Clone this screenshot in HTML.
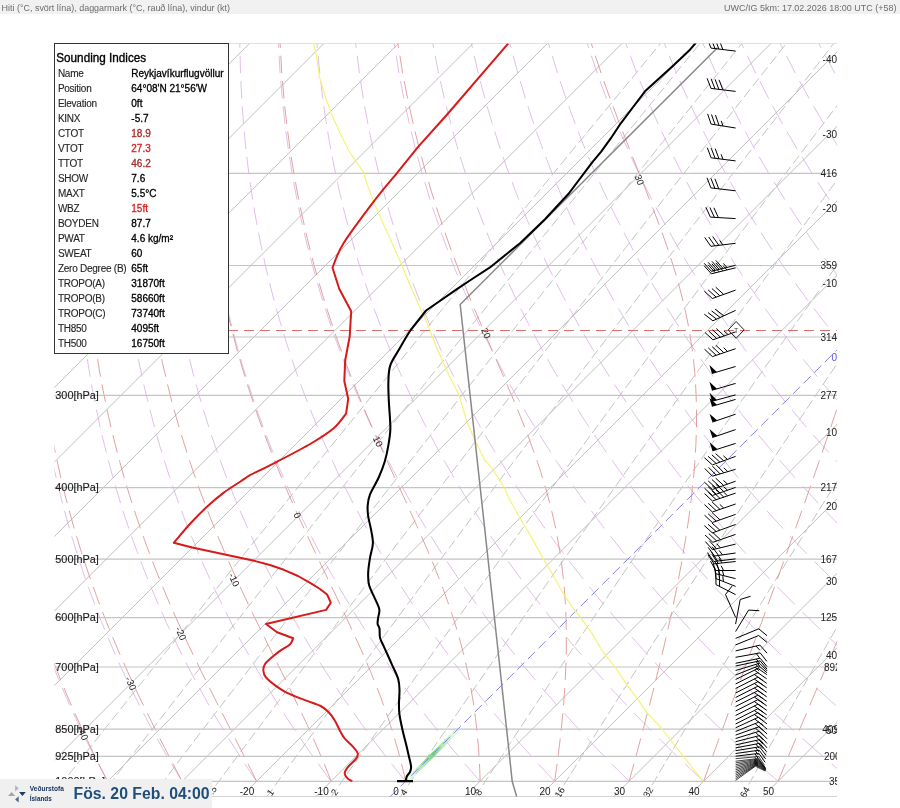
<!DOCTYPE html>
<html><head><meta charset="utf-8"><style>
html,body{margin:0;padding:0;background:#fff;width:900px;height:808px;overflow:hidden}
svg{display:block}
text{font-family:"Liberation Sans",Arial,sans-serif}
.iso{fill:none;stroke:#c4c4c4;stroke-width:1.2}
.it{fill:none;stroke:#a9a9a9;stroke-width:0.75}
.mr{fill:none;stroke:#c4c4c4;stroke-width:1;stroke-dasharray:10 4}
.da{fill:none;stroke:#d8aee0;stroke-width:0.8}
.ma{fill:none;stroke:#dc8888;stroke-width:0.8}
.tl{font-size:10px;fill:#262626;letter-spacing:-0.25px;stroke:#262626;stroke-width:0.12}
.tv{font-size:10px;fill:#000;stroke:#000;stroke-width:0.3}
.tv.dr{fill:#a52a2a;stroke:#a52a2a}
.tv.r{fill:#dd1c1c;stroke:#dd1c1c}
.pl{font-size:10.9px;fill:#1e1e1e;stroke:#1e1e1e;stroke-width:0.15}
.hl{font-size:10px;fill:#222}
.tr{font-size:10px;fill:#222;text-anchor:end}
.tr.b{fill:#5555dd}
.bt{font-size:10px;fill:#222;text-anchor:middle}
.ml{font-size:9.5px;fill:#222;text-anchor:middle;dominant-baseline:central}
.al{font-size:9.5px;fill:#222;text-anchor:middle;dominant-baseline:central}
</style></head><body>
<svg width="900" height="808" viewBox="0 0 900 808">
<defs><linearGradient id="gg" gradientUnits="userSpaceOnUse" x1="407.8" y1="779.8" x2="458.1" y2="729.5"><stop offset="0" stop-color="#b8f0b8" stop-opacity="0.3"/><stop offset="0.5" stop-color="#70dc70"/><stop offset="1" stop-color="#c8f4c8" stop-opacity="0.3"/></linearGradient><clipPath id="pc"><rect x="54.4" y="43.4" width="782.7" height="753.3"/></clipPath></defs>
<rect x="0" y="0" width="900" height="808" fill="#fff"/>
<rect x="0" y="0" width="900" height="14" fill="#f1f1f1"/>
<text x="1.5" y="10.8" font-size="9.2" fill="#6c6c6c" textLength="228.5" lengthAdjust="spacingAndGlyphs">Hiti (°C, svört lína), daggarmark (°C, rauð lína), vindur (kt)</text>
<text x="896.5" y="10.8" font-size="9.2" fill="#6c6c6c" text-anchor="end" textLength="172.5" lengthAdjust="spacingAndGlyphs">UWC/IG 5km: 17.02.2026 18:00 UTC (+58)</text>
<g clip-path="url(#pc)">
<path d="M-802 796.9L-48.4 43.3M-727.5 796.9L26.1 43.3M-653 796.9L100.6 43.3M-578.5 796.9L175.1 43.3M-504 796.9L249.6 43.3M-429.5 796.9L324.1 43.3M-355 796.9L398.6 43.3M-280.5 796.9L473.1 43.3M-206 796.9L547.6 43.3M-131.5 796.9L622.1 43.3M-57 796.9L696.6 43.3M17.5 796.9L771.1 43.3M92 796.9L845.6 43.3M166.5 796.9L920.1 43.3M241 796.9L994.6 43.3M315.5 796.9L1069.1 43.3M464.5 796.9L1218.1 43.3M539 796.9L1292.6 43.3M613.5 796.9L1367.1 43.3M688 796.9L1441.6 43.3M762.5 796.9L1516.1 43.3M837 796.9L1590.6 43.3" class="it"/>
<path d="M51.1 796.9 63.4 781.3 76.4 764.9 90.1 747.5 104.6 729.2 120 709.8 136.4 689.1 154 667 172.9 643.2 193.4 617.6 215.7 589.7 240.2 559.1 267.3 525.4 297.7 487.6 332.2 444.8 372.2 395.4 419.6 337 477.9 265.5 553.5 173.3 660.6 43.3M99.7 796.9 111.8 781.3 124.5 764.9 138 747.5 152.3 729.2 167.4 709.8 183.5 689.1 200.8 667 219.4 643.2 239.6 617.6 261.5 589.7 285.6 559.1 312.2 525.4 342.2 487.6 376.2 444.8 415.5 395.4 462.3 337 519.8 265.5 594.3 173.3 700.1 43.3M151.6 796.9 163.5 781.3 176 764.9 189.2 747.5 203.1 729.2 218 709.8 233.8 689.1 250.8 667 269 643.2 288.8 617.6 310.3 589.7 333.9 559.1 360.2 525.4 389.5 487.6 423 444.8 461.7 395.4 507.7 337 564.3 265.5 637.7 173.3 742 43.3M207.2 796.9 218.8 781.3 231 764.9 243.9 747.5 257.6 729.2 272.1 709.8 287.6 689.1 304.2 667 322 643.2 341.4 617.6 362.5 589.7 385.6 559.1 411.3 525.4 440.1 487.6 472.9 444.8 510.9 395.4 556.1 337 611.7 265.5 683.9 173.3 786.5 43.3M266.8 796.9 278.1 781.3 290 764.9 302.6 747.5 315.9 729.2 330.1 709.8 345.2 689.1 361.4 667 378.8 643.2 397.7 617.6 418.3 589.7 440.9 559.1 466 525.4 494.2 487.6 526.3 444.8 563.5 395.4 607.8 337 662.3 265.5 733.1 173.3 833.9 43.3M331 796.9 342 781.3 353.5 764.9 365.7 747.5 378.7 729.2 392.4 709.8 407.1 689.1 422.8 667 439.8 643.2 458.2 617.6 478.2 589.7 500.3 559.1 524.8 525.4 552.2 487.6 583.5 444.8 619.9 395.4 663.1 337 716.4 265.5 785.7 173.3 884.4 43.3M400.3 796.9 410.8 781.3 422 764.9 433.8 747.5 446.3 729.2 459.6 709.8 473.8 689.1 489.1 667 505.5 643.2 523.3 617.6 542.7 589.7 564.1 559.1 587.9 525.4 614.6 487.6 645 444.8 680.3 395.4 722.4 337 774.4 265.5 842 173.3 938.5 43.3M475.2 796.9 485.3 781.3 496.1 764.9 507.4 747.5 519.4 729.2 532.2 709.8 545.9 689.1 560.6 667 576.4 643.2 593.6 617.6 612.3 589.7 633 559.1 655.9 525.4 681.8 487.6 711.2 444.8 745.4 395.4 786.3 337 836.7 265.5 902.5 173.3 996.5 43.3M556.5 796.9 566.2 781.3 576.4 764.9 587.2 747.5 598.7 729.2 610.9 709.8 624 689.1 638.1 667 653.2 643.2 669.7 617.6 687.7 589.7 707.5 559.1 729.5 525.4 754.4 487.6 782.7 444.8 815.7 395.4 855.1 337 903.9 265.5 967.6 173.3 1058.9 43.3M645.1 796.9 654.3 781.3 663.9 764.9 674.2 747.5 685 729.2 696.6 709.8 709 689.1 722.3 667 736.7 643.2 752.4 617.6 769.5 589.7 788.4 559.1 809.4 525.4 833.1 487.6 860.2 444.8 891.8 395.4 929.6 337 976.5 265.5 1037.9 173.3 1126.1 43.3M742.1 796.9 750.6 781.3 759.6 764.9 769.1 747.5 779.3 729.2 790.1 709.8 801.8 689.1 814.3 667 827.8 643.2 842.5 617.6 858.6 589.7 876.4 559.1 896.3 525.4 918.8 487.6 944.5 444.8 974.5 395.4 1010.5 337 1055.3 265.5 1114 173.3 1198.7 43.3" class="mr"/>
<path d="M107.6 781.3 105.8 778.1 104.1 774.8 102.3 771.5 100.5 768.2 98.8 764.9 98.2 763.8M94.2 756 93.4 754.6 91.6 751.1 89.9 747.5 88.1 744 86.3 740.3 85.4 738.5M81.6 730.7 80.9 729.2 79.1 725.4 77.3 721.6 75.5 717.7 73.7 713.8 73.4 713.2M69.9 705.4 68.2 701.7 66.4 697.5 64.6 693.3 62.7 689.1 62.3 687.9M59 680.1 57.3 676 55.5 671.5 53.6 667 51.9 662.6M182.1 781.3 180.1 778.1 178.1 774.8 176.2 771.5 174.2 768.2 172.2 764.9 171.6 763.8M167 756 166.2 754.6 164.2 751.1 162.2 747.5 160.1 744 158.1 740.3 157.1 738.5M152.8 730.7 152 729.2 150 725.4 147.9 721.6 145.9 717.7 143.8 713.8 143.5 713.2M139.5 705.4 137.6 701.7 135.5 697.5 133.5 693.3 131.4 689.1 130.8 687.9M127.1 680.1 125.1 676 123 671.5 120.9 667 118.9 662.6M115.5 654.8 114.6 652.9 112.5 648.1 110.4 643.2 108.3 638.3 107.9 637.3M104.7 629.6 104.1 628.1 101.9 622.9 99.8 617.6 97.7 612.2 97.7 612.1M94.7 604.3 93.5 601.1 91.4 595.5 89.3 589.7 88.2 586.8M85.5 579 85.1 577.8 83 571.7 80.9 565.5 79.6 561.5M77.1 553.7 76.7 552.7 74.7 546.1 72.6 539.3 71.7 536.2M69.4 528.4 68.5 525.4 66.5 518.2 64.5 510.9M62.4 503.1 60.5 495.5 58.5 487.6 58.1 485.6M56.2 477.8 54.7 471.2 52.8 462.6 52.3 460.3M256.6 781.3 254.4 778.1 252.2 774.8 250 771.5 247.8 768.2 245.6 764.9 244.9 763.8M239.9 756 238.9 754.6 236.7 751.1 234.4 747.5 232.2 744 229.9 740.3 228.8 738.5M224 730.7 223.1 729.2 220.8 725.4 218.5 721.6 216.2 717.7 213.9 713.8 213.6 713.2M209.1 705.4 207 701.7 204.7 697.5 202.3 693.3 200 689.1 199.4 687.9M195.1 680.1 192.9 676 190.6 671.5 188.2 667 186 662.6M182 654.8 181.1 652.9 178.7 648.1 176.3 643.2 173.9 638.3 173.4 637.3M169.7 629.6 169 628.1 166.6 622.9 164.2 617.6 161.8 612.2 161.7 612.1M158.3 604.3 156.9 601.1 154.5 595.5 152.1 589.7 150.9 586.8M147.7 579 147.2 577.8 144.8 571.7 142.4 565.5 140.8 561.5M137.9 553.7 137.5 552.7 135.1 546.1 132.6 539.3 131.6 536.2M128.9 528.4 127.8 525.4 125.4 518.2 123 510.9M120.6 503.1 118.3 495.5 115.9 487.6 115.3 485.6M113.1 477.8 111.2 471.2 108.9 462.6 108.3 460.3M106.3 452.5 104.4 444.8 102.1 435.5 102 435M100.2 427.2 99.9 426 97.8 416.1 96.4 409.7M94.8 401.9 93.6 395.4 91.5 384.6 91.5 384.4M90.2 376.7 89.6 373.3 87.7 361.7 87.3 359.2M86.1 351.4 85.9 349.6 84.1 337 83.7 333.9M82.8 326.1 82.5 323.9 81 310.3 80.8 308.6M80 300.8 79.6 296 78.5 283.3M77.9 275.5 77.3 265.5 76.9 258M76.4 250.2 76.4 249 75.8 232.7M75.6 224.9 75.3 213.4 75.3 207.4M75.3 199.6 75.2 194 75.4 182.1M75.5 174.3 75.5 173.3 76 156.8M76.3 149 77.2 131.5M77.7 123.8 78.9 106.3M79.6 98.5 81.2 81M82 73.2 84 55.7M84.9 47.9 85.5 43.3M331.1 781.3 328.7 778.1 326.3 774.8 323.9 771.5 321.5 768.2 319 764.9 318.3 763.8M312.7 756 311.7 754.6 309.2 751.1 306.7 747.5 304.3 744 301.8 740.3 300.5 738.5M295.3 730.7 294.2 729.2 291.7 725.4 289.2 721.6 286.6 717.7 284.1 713.8 283.7 713.2M278.8 705.4 276.4 701.7 273.8 697.5 271.2 693.3 268.6 689.1 267.9 687.9M263.2 680.1 260.8 676 258.1 671.5 255.5 667 253 662.6M248.6 654.8 247.5 652.9 244.8 648.1 242.1 643.2 239.4 638.3 239 637.3M234.8 629.6 234 628.1 231.3 622.9 228.6 617.6 225.9 612.2 225.8 612.1M221.9 604.3 220.4 601.1 217.6 595.5 214.9 589.7 213.5 586.8M209.9 579 209.4 577.8 206.6 571.7 203.8 565.5 202.1 561.5M198.7 553.7 198.3 552.7 195.5 546.1 192.7 539.3 191.4 536.2M188.3 528.4 187.1 525.4 184.3 518.2 181.6 510.9M178.7 503.1 176 495.5 173.2 487.6 172.5 485.6M169.9 477.8 167.7 471.2 165 462.6 164.3 460.3M161.9 452.5 159.5 444.8 156.9 435.5 156.7 435M154.5 427.2 154.2 426 151.6 416.1 149.9 409.7M148 401.9 146.4 395.4 143.8 384.6 143.8 384.4M142.1 376.7 141.4 373.3 138.9 361.7 138.4 359.2M136.9 351.4 136.6 349.6 134.3 337 133.7 333.9M132.4 326.1 132 323.9 129.9 310.3 129.7 308.6M128.6 300.8 127.9 296 126.3 283.3M125.4 275.5 124.3 265.5 123.6 258M122.8 250.2 122.7 249 121.4 232.7M120.9 224.9 120.2 213.4 120 207.4M119.6 199.6 119.4 194 119.1 182.1M118.9 174.3 118.8 173.3 118.7 156.8M118.7 149 119 131.5M119.1 123.8 119.8 106.3M120.1 98.5 121.1 81M121.6 73.2 123 55.7M123.7 47.9 124.1 43.3M405.6 781.3 403 778.1 400.4 774.8 397.7 771.5 395.1 768.2 392.4 764.9 391.6 763.8M385.5 756 384.4 754.6 381.7 751.1 379 747.5 376.3 744 373.6 740.3 372.2 738.5M366.5 730.7 365.4 729.2 362.6 725.4 359.8 721.6 357 717.7 354.2 713.8 353.9 713.2M348.4 705.4 345.8 701.7 342.9 697.5 340.1 693.3 337.2 689.1 336.5 687.9M331.3 680.1 328.6 676 325.7 671.5 322.8 667 320 662.6M315.1 654.8 313.9 652.9 311 648.1 308 643.2 305 638.3 304.5 637.3M299.9 629.6 299 628.1 296 622.9 293 617.6 289.9 612.2 289.9 612.1M285.6 604.3 283.8 601.1 280.8 595.5 277.7 589.7 276.2 586.8M272.1 579 271.5 577.8 268.4 571.7 265.3 565.5 263.3 561.5M259.5 553.7 259 552.7 255.9 546.1 252.7 539.3 251.3 536.2M247.8 528.4 246.4 525.4 243.3 518.2 240.1 510.9M236.9 503.1 233.7 495.5 230.6 487.6 229.8 485.6M226.8 477.8 224.2 471.2 221.1 462.6 220.2 460.3M217.4 452.5 214.7 444.8 211.6 435.5 211.4 435M208.9 427.2 208.5 426 205.4 416.1 203.4 409.7M201.1 401.9 199.2 395.4 196.1 384.6 196.1 384.4M194 376.7 193.1 373.3 190.2 361.7 189.6 359.2M187.7 351.4 187.3 349.6 184.4 337 183.7 333.9M182.1 326.1 181.6 323.9 178.9 310.3 178.6 308.6M177.1 300.8 176.3 296 174.1 283.3M172.9 275.5 171.3 265.5 170.3 258M169.2 250.2 169.1 249 167.1 232.7M166.3 224.9 165.1 213.4 164.6 207.4M164 199.6 163.5 194 162.7 182.1M162.2 174.3 162.2 173.3 161.4 156.8M161.1 149 160.7 131.5M160.6 123.8 160.6 106.3M160.7 98.5 161 81M161.2 73.2 162.1 55.7M162.4 47.9 162.7 43.3M480.1 781.3 477.3 778.1 474.4 774.8 471.6 771.5 468.7 768.2 465.9 764.9 465 763.8M458.4 756 457.2 754.6 454.2 751.1 451.3 747.5 448.4 744 445.4 740.3 443.9 738.5M437.7 730.7 436.5 729.2 433.5 725.4 430.5 721.6 427.4 717.7 424.4 713.8 424 713.2M418 705.4 415.2 701.7 412.1 697.5 409 693.3 405.9 689.1 405 687.9M399.4 680.1 396.4 676 393.2 671.5 390 667 387 662.6M381.7 654.8 380.4 652.9 377.1 648.1 373.9 643.2 370.6 638.3 370 637.3M365 629.6 364 628.1 360.7 622.9 357.4 617.6 354 612.2 353.9 612.1M349.2 604.3 347.3 601.1 343.9 595.5 340.5 589.7 338.8 586.8M334.3 579 333.6 577.8 330.2 571.7 326.7 565.5 324.6 561.5M320.3 553.7 319.8 552.7 316.3 546.1 312.8 539.3 311.2 536.2M307.2 528.4 305.7 525.4 302.2 518.2 298.7 510.9M295 503.1 291.5 495.5 287.9 487.6 287 485.6M283.6 477.8 280.7 471.2 277.1 462.6 276.2 460.3M273 452.5 269.9 444.8 266.3 435.5 266.1 435M263.2 427.2 262.7 426 259.2 416.1 256.9 409.7M254.2 401.9 252 395.4 248.5 384.6 248.4 384.4M246 376.7 244.9 373.3 241.4 361.7 240.7 359.2M238.5 351.4 238 349.6 234.5 337 233.7 333.9M231.7 326.1 231.2 323.9 227.8 310.3 227.5 308.6M225.7 300.8 224.6 296 221.9 283.3M220.3 275.5 218.4 265.5 217 258M215.6 250.2 215.4 249 212.8 232.7M211.7 224.9 210 213.4 209.3 207.4M208.3 199.6 207.6 194 206.4 182.1M205.6 174.3 205.5 173.3 204.1 156.8M203.5 149 202.5 131.5M202.1 123.8 201.4 106.3M201.2 98.5 200.9 81M200.9 73.2 201.1 55.7M201.2 47.9 201.2 43.3M554.6 781.3 551.6 778.1 548.5 774.8 545.4 771.5 542.4 768.2 539.3 764.9 538.3 763.8M531.2 756 529.9 754.6 526.8 751.1 523.6 747.5 520.4 744 517.2 740.3 515.7 738.5M508.9 730.7 507.6 729.2 504.4 725.4 501.1 721.6 497.8 717.7 494.5 713.8 494.1 713.2M487.6 705.4 484.6 701.7 481.2 697.5 477.9 693.3 474.5 689.1 473.6 687.9M467.4 680.1 464.2 676 460.8 671.5 457.3 667 454 662.6M448.2 654.8 446.8 652.9 443.3 648.1 439.8 643.2 436.2 638.3 435.5 637.3M430 629.6 429 628.1 425.4 622.9 421.8 617.6 418.1 612.2 418 612.1M412.8 604.3 410.7 601.1 407 595.5 403.3 589.7 401.4 586.8M396.5 579 395.8 577.8 392 571.7 388.2 565.5 385.8 561.5M381.2 553.7 380.6 552.7 376.7 546.1 372.8 539.3 371.1 536.2M366.7 528.4 365 525.4 361.1 518.2 357.2 510.9M353.1 503.1 349.2 495.5 345.3 487.6 344.3 485.6M340.4 477.8 337.2 471.2 333.2 462.6 332.1 460.3M328.6 452.5 325.1 444.8 321.1 435.5 320.9 435M317.6 427.2 317 426 313 416.1 310.4 409.7M307.3 401.9 304.8 395.4 300.8 384.6 300.7 384.4M297.9 376.7 296.7 373.3 292.7 361.7 291.8 359.2M289.3 351.4 288.7 349.6 284.7 337 283.7 333.9M281.4 326.1 280.7 323.9 276.8 310.3 276.3 308.6M274.2 300.8 272.9 296 269.7 283.3M267.8 275.5 265.4 265.5 263.8 258M262.1 250.2 261.8 249 258.5 232.7M257 224.9 254.9 213.4 254 207.4M252.7 199.6 251.8 194 250.1 182.1M249 174.3 248.8 173.3 246.8 156.8M245.9 149 244.2 131.5M243.5 123.8 242.2 106.3M241.7 98.5 240.9 81M240.5 73.2 240.1 55.7M239.9 47.9 239.8 43.3M629.1 781.3 625.8 778.1 622.6 774.8 619.3 771.5 616 768.2 612.7 764.9 611.6 763.8M604 756 602.7 754.6 599.3 751.1 595.9 747.5 592.5 744 589.1 740.3 587.4 738.5M580.1 730.7 578.7 729.2 575.2 725.4 571.7 721.6 568.2 717.7 564.7 713.8 564.2 713.2M557.3 705.4 554 701.7 550.4 697.5 546.7 693.3 543.1 689.1 542.1 687.9M535.5 680.1 532.1 676 528.3 671.5 524.6 667 521.1 662.6M514.8 654.8 513.3 652.9 509.5 648.1 505.6 643.2 501.8 638.3 501.1 637.3M495.1 629.6 494 628.1 490.1 622.9 486.1 617.6 482.2 612.2 482.1 612.1M476.4 604.3 474.2 601.1 470.2 595.5 466.1 589.7 464.1 586.8M458.7 579 457.9 577.8 453.8 571.7 449.7 565.5 447 561.5M442 553.7 441.3 552.7 437.1 546.1 432.9 539.3 430.9 536.2M426.2 528.4 424.3 525.4 420 518.2 415.8 510.9M411.3 503.1 407 495.5 402.6 487.6 401.5 485.6M397.3 477.8 393.7 471.2 389.3 462.6 388.1 460.3M384.2 452.5 380.3 444.8 375.8 435.5 375.6 435M371.9 427.2 371.3 426 366.8 416.1 363.9 409.7M360.5 401.9 357.6 395.4 353.1 384.6 353 384.4M349.9 376.7 348.5 373.3 343.9 361.7 343 359.2M340 351.4 339.4 349.6 334.8 337 333.7 333.9M331 326.1 330.3 323.9 325.8 310.3 325.2 308.6M322.8 300.8 321.3 296 317.5 283.3M315.3 275.5 312.5 265.5 310.5 258M308.5 250.2 308.1 249 304.2 232.7M302.4 224.9 299.8 213.4 298.6 207.4M297 199.6 295.9 194 293.7 182.1M292.3 174.3 292.1 173.3 289.5 156.8M288.3 149 285.9 131.5M285 123.8 283 106.3M282.3 98.5 280.8 81M280.1 73.2 279.1 55.7M278.7 47.9 278.4 43.3M703.6 781.3 700.1 778.1 696.6 774.8 693.1 771.5 689.6 768.2 686.1 764.9 685 763.8M676.9 756 675.4 754.6 671.8 751.1 668.2 747.5 664.6 744 660.9 740.3 659.1 738.5M651.3 730.7 649.8 729.2 646.1 725.4 642.4 721.6 638.6 717.7 634.8 713.8 634.3 713.2M626.9 705.4 623.4 701.7 619.5 697.5 615.6 693.3 611.7 689.1 610.7 687.9M603.6 680.1 599.9 676 595.9 671.5 591.9 667 588.1 662.6M581.4 654.8 579.7 652.9 575.6 648.1 571.5 643.2 567.4 638.3 566.6 637.3M560.2 629.6 559 628.1 554.8 622.9 550.5 617.6 546.2 612.2 546.1 612.1M540.1 604.3 537.6 601.1 533.3 595.5 528.9 589.7 526.7 586.8M520.9 579 520.1 577.8 515.6 571.7 511.1 565.5 508.3 561.5M502.8 553.7 502.1 552.7 497.5 546.1 492.9 539.3 490.8 536.2M485.6 528.4 483.6 525.4 479 518.2 474.3 510.9M469.4 503.1 464.7 495.5 459.9 487.6 458.7 485.6M454.1 477.8 450.3 471.2 445.4 462.6 444.1 460.3M439.7 452.5 435.5 444.8 430.6 435.5 430.3 435M426.2 427.2 425.6 426 420.6 416.1 417.4 409.7M413.6 401.9 410.5 395.4 405.4 384.6 405.3 384.4M401.8 376.7 400.3 373.3 395.2 361.7 394.1 359.2M390.8 351.4 390.1 349.6 384.9 337 383.7 333.9M380.7 326.1 379.8 323.9 374.7 310.3 374.1 308.6M371.3 300.8 369.6 296 365.3 283.3M362.7 275.5 359.5 265.5 357.2 258M354.9 250.2 354.5 249 349.9 232.7M347.8 224.9 344.7 213.4 343.3 207.4M341.4 199.6 340 194 337.4 182.1M335.7 174.3 335.5 173.3 332.2 156.8M330.7 149 327.7 131.5M326.4 123.8 323.8 106.3M322.8 98.5 320.7 81M319.8 73.2 318.1 55.7M317.4 47.9 317 43.3M778.1 781.3 774.4 778.1 770.7 774.8 767 771.5 763.3 768.2 759.5 764.9 758.3 763.8M749.7 756 748.2 754.6 744.3 751.1 740.5 747.5 736.6 744 732.7 740.3 730.8 738.5M722.5 730.7 721 729.2 717 725.4 713 721.6 709 717.7 705 713.8 704.4 713.2M696.5 705.4 692.8 701.7 688.6 697.5 684.5 693.3 680.3 689.1 679.2 687.9M671.7 680.1 667.7 676 663.5 671.5 659.2 667 655.1 662.6M647.9 654.8 646.2 652.9 641.8 648.1 637.4 643.2 632.9 638.3 632.1 637.3M625.3 629.6 624 628.1 619.5 622.9 614.9 617.6 610.3 612.2 610.2 612.1M603.7 604.3 601.1 601.1 596.4 595.5 591.7 589.7 589.4 586.8M583.1 579 582.2 577.8 577.4 571.7 572.6 565.5 569.5 561.5M563.6 553.7 562.8 552.7 557.9 546.1 553 539.3 550.7 536.2M545.1 528.4 542.9 525.4 537.9 518.2 532.8 510.9M527.5 503.1 522.5 495.5 517.3 487.6 516 485.6M511 477.8 506.8 471.2 501.4 462.6 500 460.3M495.3 452.5 490.7 444.8 485.3 435.5 485 435M480.6 427.2 479.8 426 474.3 416.1 470.9 409.7M466.7 401.9 463.3 395.4 457.7 384.6 457.6 384.4M453.7 376.7 452.1 373.3 446.4 361.7 445.3 359.2M441.6 351.4 440.8 349.6 435.1 337 433.7 333.9M430.3 326.1 429.4 323.9 423.7 310.3 423 308.6M419.9 300.8 417.9 296 413.1 283.3M410.2 275.5 406.5 265.5 404 258M401.3 250.2 400.9 249 395.6 232.7M393.2 224.9 389.7 213.4 388 207.4M385.8 199.6 384.2 194 381.1 182.1M379.1 174.3 378.8 173.3 374.9 156.8M373.1 149 369.4 131.5M367.9 123.8 364.7 106.3M363.3 98.5 360.6 81M359.4 73.2 357.2 55.7M356.2 47.9 355.6 43.3M852.6 781.3 848.7 778.1 844.8 774.8 840.9 771.5 836.9 768.2 832.9 764.9 831.7 763.8M822.6 756 820.9 754.6 816.8 751.1 812.8 747.5 808.7 744 804.6 740.3 802.5 738.5M793.8 730.7 792.1 729.2 787.9 725.4 783.6 721.6 779.4 717.7 775.1 713.8 774.5 713.2M766.2 705.4 762.2 701.7 757.8 697.5 753.4 693.3 749 689.1 747.8 687.9M739.7 680.1 735.5 676 731 671.5 726.5 667 722.1 662.6M714.5 654.8 712.6 652.9 707.9 648.1 703.2 643.2 698.5 638.3 697.7 637.3M690.3 629.6 689 628.1 684.1 622.9 679.3 617.6 674.4 612.2 674.3 612.1M667.3 604.3 664.5 601.1 659.5 595.5 654.5 589.7 652 586.8M645.3 579 644.4 577.8 639.2 571.7 634.1 565.5 630.8 561.5M624.4 553.7 623.6 552.7 618.3 546.1 613 539.3 610.6 536.2M604.6 528.4 602.2 525.4 596.8 518.2 591.4 510.9M585.7 503.1 580.2 495.5 574.6 487.6 573.2 485.6M567.8 477.8 563.3 471.2 557.5 462.6 556 460.3M550.9 452.5 545.9 444.8 540 435.5 539.7 435M534.9 427.2 534.1 426 528.1 416.1 524.4 409.7M519.8 401.9 516.1 395.4 510 384.6 509.9 384.4M505.7 376.7 503.9 373.3 497.7 361.7 496.4 359.2M492.4 351.4 491.5 349.6 485.2 337 483.7 333.9M480 326.1 478.9 323.9 472.6 310.3 471.9 308.6M468.4 300.8 466.3 296 460.9 283.3M457.6 275.5 453.6 265.5 450.7 258M447.7 250.2 447.2 249 441.2 232.7M438.5 224.9 434.6 213.4 432.6 207.4M430.1 199.6 428.3 194 424.8 182.1M422.4 174.3 422.1 173.3 417.6 156.8M415.5 149 411.2 131.5M409.4 123.8 405.5 106.3M403.9 98.5 400.5 81M399 73.2 396.2 55.7M394.9 47.9 394.2 43.3M835.8 705.4 831.6 701.7 826.9 697.5 822.3 693.3 817.6 689.1 816.3 687.9M807.8 680.1 803.4 676 798.6 671.5 793.7 667 789.2 662.6M781 654.8 779.1 652.9 774.1 648.1 769.1 643.2 764.1 638.3 763.2 637.3M755.4 629.6 754 628.1 748.8 622.9 743.7 617.6 738.5 612.2 738.3 612.1M730.9 604.3 728 601.1 722.7 595.5 717.3 589.7 714.6 586.8M707.5 579 706.5 577.8 701 571.7 695.5 565.5 692 561.5M685.3 553.7 684.4 552.7 678.7 546.1 673.1 539.3 670.5 536.2M664 528.4 661.5 525.4 655.7 518.2 649.9 510.9M643.8 503.1 638 495.5 632 487.6 630.4 485.6M624.6 477.8 619.8 471.2 613.6 462.6 612 460.3M606.5 452.5 601.1 444.8 594.8 435.5 594.4 435M589.2 427.2 588.4 426 581.9 416.1 577.9 409.7M573 401.9 568.9 395.4 562.3 384.6 562.2 384.4M557.6 376.7 555.6 373.3 548.9 361.7 547.5 359.2M543.2 351.4 542.2 349.6 535.3 337 533.7 333.9M529.6 326.1 528.5 323.9 521.6 310.3 520.7 308.6M516.9 300.8 514.6 296 508.7 283.3M505.1 275.5 500.6 265.5 497.4 258M494.1 250.2 493.6 249 486.9 232.7M483.9 224.9 479.5 213.4 477.3 207.4M474.5 199.6 472.4 194 468.4 182.1M465.8 174.3 465.4 173.3 460.3 156.8M457.9 149 452.9 131.5M450.8 123.8 446.3 106.3M444.4 98.5 440.4 81M438.6 73.2 435.2 55.7M433.7 47.9 432.8 43.3M847.6 654.8 845.5 652.9 840.3 648.1 835 643.2 829.7 638.3 828.7 637.3M820.5 629.6 818.9 628.1 813.5 622.9 808.1 617.6 802.5 612.2 802.4 612.1M794.6 604.3 791.4 601.1 785.8 595.5 780.1 589.7 777.3 586.8M769.8 579 768.6 577.8 762.8 571.7 757 565.5 753.3 561.5M746.1 553.7 745.1 552.7 739.1 546.1 733.1 539.3 730.3 536.2M723.5 528.4 720.9 525.4 714.7 518.2 708.5 510.9M702 503.1 695.7 495.5 689.3 487.6 687.7 485.6M681.5 477.8 676.3 471.2 669.7 462.6 667.9 460.3M662 452.5 656.3 444.8 649.5 435.5 649.1 435M643.6 427.2 642.7 426 635.7 416.1 631.4 409.7M626.1 401.9 621.7 395.4 614.6 384.6 614.5 384.4M609.6 376.7 607.4 373.3 600.2 361.7 598.7 359.2M594 351.4 592.9 349.6 585.5 337 583.7 333.9M579.3 326.1 578 323.9 570.5 310.3 569.6 308.6M565.5 300.8 563 296 556.4 283.3M552.6 275.5 547.6 265.5 544.1 258M540.5 250.2 539.9 249 532.6 232.7M529.3 224.9 524.4 213.4 522 207.4M518.8 199.6 516.6 194 512.1 182.1M509.2 174.3 508.8 173.3 503 156.8M500.3 149 494.7 131.5M492.3 123.8 487.1 106.3M484.9 98.5 480.3 81M478.3 73.2 474.2 55.7M472.4 47.9 471.4 43.3M832 579 830.8 577.8 824.6 571.7 818.4 565.5 814.5 561.5M806.9 553.7 805.9 552.7 799.5 546.1 793.1 539.3 790.2 536.2M783 528.4 780.2 525.4 773.6 518.2 767 510.9M760.1 503.1 753.5 495.5 746.6 487.6 744.9 485.6M738.3 477.8 732.8 471.2 725.8 462.6 723.9 460.3M717.6 452.5 711.5 444.8 704.3 435.5 703.9 435M697.9 427.2 696.9 426 689.5 416.1 684.9 409.7M679.2 401.9 674.5 395.4 666.9 384.6 666.8 384.4M661.5 376.7 659.2 373.3 651.4 361.7 649.8 359.2M644.7 351.4 643.6 349.6 635.6 337 633.7 333.9M628.9 326.1 627.6 323.9 619.5 310.3 618.5 308.6M614 300.8 611.3 296 604.2 283.3M600 275.5 594.7 265.5 590.9 258M586.9 250.2 586.3 249 578.3 232.7M574.6 224.9 569.3 213.4 566.6 207.4M563.2 199.6 560.7 194 555.8 182.1M552.5 174.3 552.1 173.3 545.7 156.8M542.7 149 536.4 131.5M533.7 123.8 527.9 106.3M525.5 98.5 520.2 81M517.9 73.2 513.2 55.7M511.2 47.9 509.9 43.3M842.4 528.4 839.5 525.4 832.5 518.2 825.6 510.9M818.2 503.1 811.2 495.5 804 487.6 802.2 485.6M795.2 477.8 789.3 471.2 781.8 462.6 779.8 460.3M773.2 452.5 766.7 444.8 759 435.5 758.6 435M752.2 427.2 751.2 426 743.3 416.1 738.4 409.7M732.3 401.9 727.4 395.4 719.2 384.6 719.1 384.4M713.4 376.7 711 373.3 702.7 361.7 700.9 359.2M695.5 351.4 694.3 349.6 685.8 337 683.7 333.9M678.6 326.1 677.1 323.9 668.4 310.3 667.4 308.6M662.6 300.8 659.6 296 652 283.3M647.5 275.5 641.7 265.5 637.6 258M633.3 250.2 632.6 249 624 232.7M620 224.9 614.2 213.4 611.3 207.4M607.6 199.6 604.8 194 599.5 182.1M595.9 174.3 595.4 173.3 588.4 156.8M585.1 149 578.2 131.5M575.2 123.8 568.8 106.3M566 98.5 560.1 81M557.5 73.2 552.3 55.7M549.9 47.9 548.5 43.3M852 477.8 845.8 471.2 837.9 462.6 835.8 460.3M828.8 452.5 821.9 444.8 813.7 435.5 813.3 435M806.6 427.2 805.5 426 797.1 416.1 791.9 409.7M785.5 401.9 780.2 395.4 771.5 384.6 771.4 384.4M765.4 376.7 762.8 373.3 753.9 361.7 752.1 359.2M746.3 351.4 745 349.6 735.9 337 733.7 333.9M728.2 326.1 726.7 323.9 717.4 310.3 716.3 308.6M711.1 300.8 708 296 699.8 283.3M695 275.5 688.8 265.5 684.3 258M679.7 250.2 679 249 669.7 232.7M665.4 224.9 659.1 213.4 656 207.4M651.9 199.6 649 194 643.1 182.1M639.3 174.3 638.8 173.3 631.1 156.8M627.6 149 619.9 131.5M616.6 123.8 609.6 106.3M606.5 98.5 600 81M597.2 73.2 591.3 55.7M588.7 47.9 587.1 43.3M838.6 401.9 833 395.4 823.8 384.6 823.7 384.4M817.3 376.7 814.6 373.3 805.2 361.7 803.2 359.2M797.1 351.4 795.7 349.6 786 337 783.7 333.9M777.9 326.1 776.3 323.9 766.4 310.3 765.2 308.6M759.7 300.8 756.3 296 747.6 283.3M742.4 275.5 735.8 265.5 731 258M726.1 250.2 725.3 249 715.3 232.7M710.8 224.9 704 213.4 700.6 207.4M696.3 199.6 693.1 194 686.8 182.1M682.7 174.3 682.1 173.3 673.8 156.8M670 149 661.7 131.5M658.1 123.8 650.4 106.3M647.1 98.5 639.9 81M636.8 73.2 630.3 55.7M627.4 47.9 625.7 43.3M847.9 351.4 846.4 349.6 836.2 337 833.7 333.9M827.5 326.1 825.8 323.9 815.3 310.3 814 308.6M808.2 300.8 804.6 296 795.4 283.3M789.9 275.5 782.8 265.5 777.8 258M772.5 250.2 771.7 249 761 232.7M756.1 224.9 748.9 213.4 745.3 207.4M740.6 199.6 737.2 194 730.5 182.1M726 174.3 725.4 173.3 716.5 156.8M712.4 149 703.4 131.5M699.6 123.8 691.2 106.3M687.6 98.5 679.8 81M676.4 73.2 669.3 55.7M666.2 47.9 664.3 43.3M837.3 275.5 829.9 265.5 824.5 258M818.9 250.2 818.1 249 806.7 232.7M801.5 224.9 793.8 213.4 790 207.4M785 199.6 781.4 194 774.2 182.1M769.4 174.3 768.7 173.3 759.2 156.8M754.8 149 745.2 131.5M741 123.8 732 106.3M728.1 98.5 719.8 81M716 73.2 708.3 55.7M704.9 47.9 702.9 43.3M846.9 224.9 838.7 213.4 834.6 207.4M829.4 199.6 825.5 194 817.8 182.1M812.8 174.3 812.1 173.3 801.9 156.8M797.2 149 786.9 131.5M782.5 123.8 772.8 106.3M768.7 98.5 759.7 81M755.7 73.2 747.4 55.7M743.6 47.9 741.5 43.3M839.6 149 828.7 131.5M823.9 123.8 813.7 106.3M809.2 98.5 799.6 81M795.3 73.2 786.4 55.7M782.4 47.9 780.1 43.3M834.9 73.2 825.4 55.7M821.1 47.9 818.7 43.3" class="da"/>
<path d="M107.6 781.3 106 778.1 104.3 774.8 102.7 771.5 101 768.2 99.3 764.9 98.8 763.8M94.9 756 94.2 754.6 92.5 751.1 90.8 747.5 89.1 744 87.4 740.3 86.5 738.5M82.9 730.7 82.2 729.2 80.4 725.4 78.7 721.6 76.9 717.7 75.1 713.8 74.9 713.2M71.5 705.4 69.8 701.7 68 697.5 66.2 693.3 64.5 689.1 64 687.9M60.7 680.1 59.1 676 57.3 671.5 55.5 667 53.8 662.6M182.1 781.3 180.4 778.1 178.7 774.8 177 771.5 175.3 768.2 173.5 764.9 173 763.8M168.9 756 168.2 754.6 166.4 751.1 164.5 747.5 162.7 744 160.8 740.3 159.9 738.5M156 730.7 155.2 729.2 153.3 725.4 151.4 721.6 149.5 717.7 147.5 713.8 147.3 713.2M143.5 705.4 141.6 701.7 139.7 697.5 137.7 693.3 135.7 689.1 135.1 687.9M131.5 680.1 129.6 676 127.6 671.5 125.5 667 123.6 662.6M120.2 654.8 119.3 652.9 117.3 648.1 115.2 643.2 113.1 638.3 112.7 637.3M109.5 629.6 108.9 628.1 106.8 622.9 104.7 617.6 102.6 612.2 102.6 612.1M99.6 604.3 98.4 601.1 96.3 595.5 94.2 589.7 93.2 586.8M90.4 579 90 577.8 87.9 571.7 85.8 565.5 84.5 561.5M81.9 553.7 81.6 552.7 79.5 546.1 77.5 539.3 76.5 536.2M74.2 528.4 73.3 525.4 71.3 518.2 69.3 510.9M67.2 503.1 65.2 495.5 63.3 487.6 62.8 485.6M60.9 477.8 59.4 471.2 57.5 462.6 57 460.3M55.3 452.5 53.8 444.8 52 435.5 51.9 435M256.6 781.3 255 778.1 253.4 774.8 251.8 771.5 250.2 768.2 248.5 764.9 248 763.8M244 756 243.3 754.6 241.6 751.1 239.8 747.5 237.9 744 236.1 740.3 235.2 738.5M231.2 730.7 230.4 729.2 228.5 725.4 226.5 721.6 224.5 717.7 222.5 713.8 222.3 713.2M218.3 705.4 216.4 701.7 214.3 697.5 212.2 693.3 210.1 689.1 209.5 687.9M205.6 680.1 203.5 676 201.3 671.5 199.1 667 197 662.6M193.2 654.8 192.3 652.9 190 648.1 187.7 643.2 185.4 638.3 184.9 637.3M181.4 629.6 180.7 628.1 178.3 622.9 175.9 617.6 173.5 612.2 173.5 612.1M170.1 604.3 168.7 601.1 166.3 595.5 163.9 589.7 162.7 586.8M159.5 579 159 577.8 156.6 571.7 154.1 565.5 152.6 561.5M149.6 553.7 149.2 552.7 146.8 546.1 144.3 539.3 143.2 536.2M140.4 528.4 139.4 525.4 136.9 518.2 134.5 510.9M132 503.1 129.6 495.5 127.2 487.6 126.6 485.6M124.3 477.8 122.4 471.2 120 462.6 119.4 460.3M117.3 452.5 115.3 444.8 113 435.5 112.9 435M111 427.2 110.7 426 108.5 416.1 107.1 409.7M105.4 401.9 104.1 395.4 102 384.6 102 384.4M100.6 376.7 99.9 373.3 98 361.7 97.6 359.2M96.3 351.4 96 349.6 94.2 337 93.8 333.9M92.8 326.1 92.5 323.9 90.8 310.3 90.7 308.6M89.8 300.8 89.3 296 88.2 283.3M87.6 275.5 86.8 265.5 86.3 258M85.9 250.2 85.8 249 85 232.7M84.8 224.9 84.5 213.4 84.4 207.4M84.3 199.6 84.2 194 84.3 182.1M84.4 174.3 84.4 173.3 84.8 156.8M85 149 85.8 131.5M86.2 123.8 87.4 106.3M88 98.5 89.5 81M90.2 73.2 92.1 55.7M93 47.9 93.5 43.3M331.1 781.3 329.9 778.1 328.6 774.8 327.3 771.5 326 768.2 324.6 764.9 324.2 763.8M320.9 756 320.3 754.6 318.8 751.1 317.3 747.5 315.7 744 314.1 740.3 313.3 738.5M309.8 730.7 309.1 729.2 307.4 725.4 305.6 721.6 303.8 717.7 301.9 713.8 301.6 713.2M297.9 705.4 296.1 701.7 294.1 697.5 292.1 693.3 290 689.1 289.4 687.9M285.6 680.1 283.6 676 281.4 671.5 279.1 667 276.9 662.6M273.1 654.8 272.1 652.9 269.7 648.1 267.3 643.2 264.9 638.3 264.4 637.3M260.6 629.6 259.9 628.1 257.3 622.9 254.7 617.6 252.1 612.2 252.1 612.1M248.4 604.3 246.9 601.1 244.2 595.5 241.5 589.7 240.1 586.8M236.5 579 236 577.8 233.2 571.7 230.5 565.5 228.7 561.5M225.3 553.7 224.8 552.7 222 546.1 219.1 539.3 217.8 536.2M214.6 528.4 213.4 525.4 210.5 518.2 207.7 510.9M204.7 503.1 201.8 495.5 198.9 487.6 198.2 485.6M195.4 477.8 193.1 471.2 190.2 462.6 189.5 460.3M186.9 452.5 184.5 444.8 181.6 435.5 181.4 435M179.1 427.2 178.7 426 175.9 416.1 174.1 409.7M172 401.9 170.3 395.4 167.6 384.6 167.5 384.4M165.7 376.7 164.9 373.3 162.2 361.7 161.7 359.2M160 351.4 159.6 349.6 157.1 337 156.5 333.9M155 326.1 154.6 323.9 152.2 310.3 152 308.6M150.7 300.8 150 296 148.1 283.3M147.1 275.5 145.8 265.5 144.9 258M144.1 250.2 143.9 249 142.3 232.7M141.7 224.9 140.8 213.4 140.4 207.4M139.9 199.6 139.6 194 139.1 182.1M138.8 174.3 138.7 173.3 138.3 156.8M138.2 149 138.2 131.5M138.2 123.8 138.6 106.3M138.8 98.5 139.5 81M139.9 73.2 141.1 55.7M141.6 47.9 141.9 43.3M405.6 781.3 404.9 778.1 404.2 774.8 403.4 771.5 402.6 768.2 401.8 764.9 401.5 763.8M399.5 756 399.2 754.6 398.2 751.1 397.2 747.5 396.2 744 395.1 740.3 394.6 738.5M392.2 730.7 391.7 729.2 390.5 725.4 389.3 721.6 388 717.7 386.6 713.8 386.4 713.2M383.7 705.4 382.3 701.7 380.8 697.5 379.2 693.3 377.5 689.1 377.1 687.9M374 680.1 372.3 676 370.5 671.5 368.5 667 366.7 662.6M363.3 654.8 362.5 652.9 360.3 648.1 358.2 643.2 355.9 638.3 355.5 637.3M351.9 629.6 351.2 628.1 348.8 622.9 346.3 617.6 343.8 612.2 343.7 612.1M340 604.3 338.5 601.1 335.8 595.5 333 589.7 331.6 586.8M327.9 579 327.3 577.8 324.4 571.7 321.4 565.5 319.5 561.5M315.8 553.7 315.3 552.7 312.2 546.1 309 539.3 307.6 536.2M304 528.4 302.6 525.4 299.3 518.2 296 510.9M292.6 503.1 289.2 495.5 285.8 487.6 285 485.6M281.7 477.8 279 471.2 275.5 462.6 274.6 460.3M271.5 452.5 268.5 444.8 265 435.5 264.8 435M261.9 427.2 261.5 426 257.9 416.1 255.7 409.7M253.1 401.9 250.9 395.4 247.4 384.6 247.4 384.4M245 376.7 243.9 373.3 240.5 361.7 239.8 359.2M237.6 351.4 237 349.6 233.7 337 232.9 333.9M230.9 326.1 230.3 323.9 227 310.3 226.7 308.6M224.9 300.8 223.8 296 221.1 283.3M219.6 275.5 217.7 265.5 216.3 258M215 250.2 214.8 249 212.2 232.7M211 224.9 209.4 213.4 208.7 207.4M207.7 199.6 207 194 205.8 182.1M205 174.3 204.9 173.3 203.6 156.8M203 149 202 131.5M201.6 123.8 200.9 106.3M200.7 98.5 200.5 81M200.5 73.2 200.7 55.7M200.8 47.9 200.9 43.3M480.1 781.3 480 778.1 479.9 774.8 479.8 771.5 479.7 768.2 479.5 764.9 479.4 763.8M479 756 478.9 754.6 478.7 751.1 478.4 747.5 478.2 744 477.8 740.3 477.7 738.5M476.9 730.7 476.8 729.2 476.4 725.4 475.9 721.6 475.4 717.7 474.9 713.8 474.9 713.2M473.8 705.4 473.2 701.7 472.5 697.5 471.8 693.3 471.1 689.1 470.9 687.9M469.4 680.1 468.6 676 467.6 671.5 466.6 667 465.6 662.6M463.8 654.8 463.3 652.9 462 648.1 460.7 643.2 459.4 638.3 459.1 637.3M456.8 629.6 456.4 628.1 454.8 622.9 453.1 617.6 451.3 612.2 451.3 612.1M448.6 604.3 447.5 601.1 445.5 595.5 443.4 589.7 442.3 586.8M439.3 579 438.8 577.8 436.4 571.7 433.9 565.5 432.2 561.5M429 553.7 428.6 552.7 425.7 546.1 422.8 539.3 421.4 536.2M417.9 528.4 416.6 525.4 413.3 518.2 410 510.9M406.5 503.1 403 495.5 399.4 487.6 398.4 485.6M394.8 477.8 391.8 471.2 387.9 462.6 386.8 460.3M383.3 452.5 379.8 444.8 375.7 435.5 375.5 435M372.1 427.2 371.5 426 367.2 416.1 364.5 409.7M361.3 401.9 358.6 395.4 354.2 384.6 354.1 384.4M351.1 376.7 349.8 373.3 345.3 361.7 344.4 359.2M341.5 351.4 340.8 349.6 336.3 337 335.3 333.9M332.6 326.1 331.9 323.9 327.4 310.3 326.9 308.6M324.4 300.8 322.9 296 319.2 283.3M317 275.5 314.2 265.5 312.2 258M310.2 250.2 309.9 249 305.9 232.7M304.2 224.9 301.6 213.4 300.4 207.4M298.8 199.6 297.6 194 295.5 182.1M294.1 174.3 293.9 173.3 291.2 156.8M290 149 287.7 131.5M286.7 123.8 284.7 106.3M284 98.5 282.5 81M281.8 73.2 280.8 55.7M280.4 47.9 280.1 43.3M554.6 781.3 555.1 778.1 555.5 774.8 556 771.5 556.5 768.2 556.9 764.9 557.1 763.8M558.1 756 558.3 754.6 558.7 751.1 559.1 747.5 559.6 744 560 740.3 560.2 738.5M561.1 730.7 561.2 729.2 561.6 725.4 562 721.6 562.4 717.7 562.8 713.8 562.8 713.2M563.5 705.4 563.8 701.7 564.1 697.5 564.4 693.3 564.7 689.1 564.8 687.9M565.2 680.1 565.4 676 565.6 671.5 565.8 667 566 662.6M566.2 654.8 566.2 652.9 566.3 648.1 566.3 643.2 566.3 638.3 566.3 637.3M566.3 629.6 566.2 628.1 566.1 622.9 566 617.6 565.8 612.2 565.8 612.1M565.4 604.3 565.2 601.1 564.8 595.5 564.4 589.7 564.1 586.8M563.4 579 563.2 577.8 562.6 571.7 561.8 565.5 561.3 561.5M560.1 553.7 560 552.7 558.9 546.1 557.7 539.3 557.1 536.2M555.6 528.4 555 525.4 553.4 518.2 551.7 510.9M549.7 503.1 547.7 495.5 545.5 487.6 544.9 485.6M542.5 477.8 540.5 471.2 537.6 462.6 536.8 460.3M534.1 452.5 531.3 444.8 527.9 435.5 527.7 435M524.6 427.2 524.2 426 520.2 416.1 517.6 409.7M514.4 401.9 511.6 395.4 507 384.6 507 384.4M503.6 376.7 502.2 373.3 497.1 361.7 496 359.2M492.6 351.4 491.9 349.6 486.4 337 485.1 333.9M481.7 326.1 480.8 323.9 475 310.3 474.3 308.6M471.1 300.8 469.1 296 464 283.3M460.9 275.5 457 265.5 454.2 258M451.3 250.2 450.8 249 445 232.7M442.3 224.9 438.4 213.4 436.5 207.4M434 199.6 432.2 194 428.6 182.1M426.3 174.3 426 173.3 421.5 156.8M419.4 149 415 131.5M413.2 123.8 409.3 106.3M407.6 98.5 404.2 81M402.7 73.2 399.9 55.7M398.6 47.9 397.9 43.3M629.1 781.3 630 778.1 630.9 774.8 631.8 771.5 632.7 768.2 633.6 764.9 633.9 763.8M636 756 636.4 754.6 637.4 751.1 638.3 747.5 639.3 744 640.2 740.3 640.7 738.5M642.8 730.7 643.2 729.2 644.2 725.4 645.2 721.6 646.2 717.7 647.2 713.8 647.4 713.2M649.4 705.4 650.4 701.7 651.4 697.5 652.5 693.3 653.6 689.1 653.9 687.9M655.8 680.1 656.8 676 657.9 671.5 659 667 660.1 662.6M662 654.8 662.4 652.9 663.6 648.1 664.7 643.2 665.8 638.3 666.1 637.3M667.8 629.6 668.2 628.1 669.3 622.9 670.5 617.6 671.7 612.2 671.7 612.1M673.4 604.3 674 601.1 675.2 595.5 676.4 589.7 676.9 586.8M678.5 579 678.7 577.8 679.9 571.7 681 565.5 681.8 561.5M683.1 553.7 683.3 552.7 684.4 546.1 685.6 539.3 686 536.2M687.3 528.4 687.7 525.4 688.8 518.2 689.7 510.9M690.8 503.1 691.7 495.5 692.5 487.6 692.7 485.6M693.5 477.8 694.1 471.2 694.8 462.6 694.9 460.3M695.4 452.5 695.9 444.8 696.2 435.5 696.2 435M696.4 427.2 696.5 426 696.5 416.1 696.5 409.7M696.3 401.9 696.1 395.4 695.6 384.6 695.6 384.4M695 376.7 694.8 373.3 693.7 361.7 693.4 359.2M692.4 351.4 692.2 349.6 690.3 337 689.8 333.9M688.4 326.1 688 323.9 685.2 310.3 684.8 308.6M682.9 300.8 681.8 296 678.4 283.3M676.2 275.5 673.2 265.5 670.7 258M668.2 250.2 667.8 249 662.1 232.7M659.2 224.9 654.9 213.4 652.5 207.4M649.5 199.6 647.3 194 642.6 182.1M639.5 174.3 639.1 173.3 632.5 156.8M629.5 149 622.6 131.5M619.6 123.8 613 106.3M610.1 98.5 603.8 81M601.1 73.2 595.3 55.7M592.8 47.9 591.2 43.3M703.6 781.3 704.8 778.1 705.9 774.8 707.1 771.5 708.3 768.2 709.5 764.9 709.9 763.8M712.8 756 713.3 754.6 714.5 751.1 715.8 747.5 717.1 744 718.4 740.3 719.1 738.5M721.9 730.7 722.5 729.2 723.9 725.4 725.3 721.6 726.7 717.7 728.1 713.8 728.3 713.2M731.2 705.4 732.5 701.7 734.1 697.5 735.6 693.3 737.1 689.1 737.6 687.9M740.4 680.1 741.9 676 743.6 671.5 745.2 667 746.8 662.6M749.7 654.8 750.4 652.9 752.1 648.1 753.9 643.2 755.7 638.3 756.1 637.3M758.9 629.6 759.4 628.1 761.4 622.9 763.3 617.6 765.3 612.2 765.3 612.1M768.1 604.3 769.3 601.1 771.3 595.5 773.4 589.7 774.5 586.8M777.3 579 777.8 577.8 780 571.7 782.2 565.5 783.7 561.5M786.5 553.7 786.9 552.7 789.2 546.1 791.7 539.3 792.8 536.2M795.6 528.4 796.6 525.4 799.2 518.2 801.8 510.9M804.6 503.1 807.2 495.5 810 487.6 810.7 485.6M813.4 477.8 815.7 471.2 818.7 462.6 819.5 460.3M822.2 452.5 824.8 444.8 828 435.5 828.2 435M830.8 427.2 831.2 426 834.5 416.1 836.6 409.7M778.1 781.3 779.4 778.1 780.8 774.8 782.1 771.5 783.5 768.2 784.9 764.9 785.3 763.8M788.5 756 789.1 754.6 790.6 751.1 792.1 747.5 793.6 744 795.1 740.3 795.8 738.5M799.1 730.7 799.7 729.2 801.3 725.4 802.9 721.6 804.6 717.7 806.2 713.8 806.5 713.2M809.8 705.4 811.3 701.7 813.1 697.5 814.9 693.3 816.7 689.1 817.2 687.9M820.5 680.1 822.3 676 824.2 671.5 826.2 667 828 662.6M831.4 654.8 832.2 652.9 834.3 648.1 836.4 643.2 838.6 638.3 839 637.3" class="ma"/>
<path d="M54.4 173.3H837.1M54.4 265.5H837.1M54.4 337H837.1M54.4 395.4H837.1M54.4 487.6H837.1M54.4 559.1H837.1M54.4 617.6H837.1M54.4 667H837.1M54.4 729.2H837.1M54.4 756.3H837.1M54.4 781.3H837.1M54.4 43.3H837.1M54.4 796.7H837.1" class="iso"/>
<line x1="407.8" y1="779.8" x2="458.1" y2="729.5" stroke="url(#gg)" stroke-width="4.5" stroke-linecap="round"/>
<line x1="390" y1="796.9" x2="1143.6" y2="43.3" stroke="#8585e8" stroke-width="1" stroke-dasharray="10 5"/>
<text transform="translate(82.9 733.3) rotate(65.2)" class="al">-40</text>
<text transform="translate(131.1 683.3) rotate(65.3)" class="al">-30</text>
<text transform="translate(181.1 633.3) rotate(65.5)" class="al">-20</text>
<text transform="translate(234.3 579.7) rotate(65.7)" class="al">-10</text>
<text transform="translate(297.4 515.3) rotate(65.9)" class="al">0</text>
<text transform="translate(378.2 441.4) rotate(66.3)" class="al">10</text>
<text transform="translate(486.3 333.2) rotate(67)" class="al">20</text>
<text transform="translate(639.6 179.8) rotate(68.3)" class="al">30</text>
<text transform="translate(54.8 792.2) rotate(-51.7)" class="ml">0.0625</text>
<text transform="translate(103.4 792.2) rotate(-52.2)" class="ml">0.125</text>
<text transform="translate(155.2 792.2) rotate(-52.8)" class="ml">0.25</text>
<text transform="translate(210.7 792.2) rotate(-53.4)" class="ml">0.5</text>
<text transform="translate(270.3 792.2) rotate(-54.2)" class="ml">1</text>
<text transform="translate(334.3 792.2) rotate(-55)" class="ml">2</text>
<text transform="translate(403.5 792.2) rotate(-55.9)" class="ml">4</text>
<text transform="translate(478.3 792.2) rotate(-57)" class="ml">8</text>
<text transform="translate(559.5 792.2) rotate(-58.2)" class="ml">16</text>
<text transform="translate(647.9 792.2) rotate(-59.7)" class="ml">32</text>
<text transform="translate(744.7 792.2) rotate(-61.4)" class="ml">64</text>
<text x="247" y="795" class="bt">-20</text>
<text x="321.5" y="795" class="bt">-10</text>
<text x="396" y="795" class="bt">0</text>
<text x="470.5" y="795" class="bt">10</text>
<text x="545" y="795" class="bt">20</text>
<text x="619.5" y="795" class="bt">30</text>
<text x="694" y="795" class="bt">40</text>
<text x="768.5" y="795" class="bt">50</text>
<path d="M313.4 42.8 L316.3 54.8 L319.5 77.1 L325 95.7 L331.5 114.2 L339.9 132.8 L349.2 151.3 L356.6 162.4 L364 172.7 L364.9 177.3 L368.6 188.4 L375.9 207.2 L388.1 234.4 L401.7 264.4 L405.8 275.2 L415.3 297 L427.6 324.2 L437.1 348.7 L449.3 375.9 L459.3 395.3 L466.7 421.6 L474.7 439.4 L484.6 460 L491.5 467.3 L503.4 486.1 L509.3 499 L519.2 516.8 L530.1 534.7 L543 558.4 L553.2 575.3 L563.7 594.2 L572.1 606.8 L580.5 617.4 L591.1 632.1 L603.7 653.2 L614.2 665.8 L626.8 684.7 L639.5 701.6 L646.1 711.7 L662.2 729 L672.1 742 L683.2 756.2 L694.4 770.4 L703 781" fill="none" stroke="#f3f37a" stroke-width="1.2" stroke-linejoin="round"/>
<polyline points="717.4,47.8 460.2,304.5 507.8,740 512.2,781.3 516.7,796.7" fill="none" stroke="#888" stroke-width="1.5"/>
<line x1="228" y1="330.5" x2="837" y2="330.5" stroke="#d87070" stroke-width="1" stroke-dasharray="10 6"/>
<path d="M508.3 43.4 L446.7 115 L418.3 146.7 L396.7 173.3 C393.1 177.8 383.7 188.4 374.9 200 C366.1 211.6 350.8 231.7 343.7 243 C336.6 254.3 334.4 263.6 332.5 267.7 L339.3 289 L351.2 311.3 L349.7 336.5 L345.2 360.2 L344.3 381 L348.2 398.8 L346.1 413.6 C344 416.1 339.2 423.5 333.4 428.5 C327.5 433.5 320.5 437.9 311 443.5 C301.5 449.1 285 457.6 276.3 462.1 C267.6 466.6 263.4 468.5 259 470.7 C254.6 472.9 253.1 473.4 250 475.2 C246.9 477 244.8 478.6 240.5 481.5 C236.2 484.4 229.5 488.3 224.1 492.4 C218.7 496.5 213.2 501 207.8 506 C202.4 511 197.2 516.2 191.5 522.3 C185.8 528.4 176.8 539.3 173.8 542.7 L192.2 547.5 L255.3 561.1 L270 565 L283.8 569.8 L298 576 L311 583.4 L320 589 L327.1 594.5 L330.8 602.7 L326.1 609.9 L266 624 L277.1 632.2 L293.2 638.3 C292.6 639.3 292.1 642.5 289.9 644.6 C287.6 646.7 282.9 648.8 279.7 651.1 C276.4 653.4 272.9 656.4 270.4 658.6 C267.9 660.8 266.1 662.2 264.9 664.2 C263.7 666.2 263.2 668.5 263.4 670.7 C263.5 672.9 264 674.9 265.8 677.2 C267.6 679.5 270.6 682 274.2 684.6 C277.8 687.2 281.9 690.3 287.2 692.9 C292.4 695.5 300.1 698.2 305.7 700.4 C311.3 702.6 316.9 704.1 320.6 706 C324.3 707.9 325.7 709.2 328 711.5 C330.3 713.8 332.5 716.6 334.5 719.9 C336.5 723.1 338.4 727.9 340.1 731 C341.8 734.1 342.7 736 344.7 738.5 C346.7 741 350 743.4 352.2 745.9 C354.4 748.4 357.1 751.1 357.7 753.3 C358.3 755.5 357.4 756.7 355.9 758.9 C354.4 761.1 350.4 764 348.5 766.3 C346.6 768.6 344.9 770.8 344.7 772.8 C344.5 774.8 346.2 777 347.5 778.4 C348.8 779.8 351.4 780.7 352.2 781.2" fill="none" stroke="#d81a1a" stroke-width="2" stroke-linejoin="round"/>
<path d="M695.8 42.8 L689.2 50.6 L673.6 65.3 L645 91.3 L632 108.5 L620.8 123.3 L610.9 138.2 L601 151.8 L592.6 161.8 L568.8 193.5 L545 219.2 L520.3 243 L489.6 267.7 L470.6 280 L457.3 288.9 L426.1 310.5 L410.7 330 C406.3 336.4 403 342.7 399.6 348.6 C396.2 354.5 392.2 359.7 390.3 365.3 C388.4 370.9 388.6 376.1 388.4 382 C388.1 387.9 388.6 394.7 388.8 400.6 C389.1 406.5 389.6 412.4 389.9 417.3 C390.1 422.2 390.6 425.7 390.3 430.3 C390.1 434.9 389.3 439.9 388.4 445.1 C387.5 450.4 386.3 456.4 384.7 461.8 C383.1 467.2 381.1 472.1 378.7 477.5 C376.3 482.9 371.9 489.5 370.1 494.1 C368.3 498.7 368 501.6 367.7 505.3 C367.4 509 367.6 512.4 368.2 516.4 C368.8 520.4 370.2 524.9 371 529.4 C371.8 533.9 373 538.6 372.9 543.3 C372.8 547.9 370.9 552.5 370.1 557.3 C369.3 562.1 368.4 567.5 368.2 572.1 C368 576.7 368 580.8 369.1 585.1 C370.2 589.4 373 594.1 374.7 598.1 C376.4 602.1 378.7 606 379.3 609.2 C379.9 612.4 378.5 615 378.2 617.4 C377.9 619.8 377.4 622 377.6 623.9 C377.8 625.8 379.1 626.3 379.5 628.6 C379.9 630.9 379.3 634.8 380.1 637.9 C380.9 641 382.2 642.8 384.1 647.1 C386 651.4 389.3 658.5 391.6 663.8 C393.9 669.1 396.8 674.4 398.1 678.7 C399.4 683 399.4 685.8 399.5 689.8 C399.6 693.8 399 698.8 399 702.8 C399 706.8 398.8 709.4 399.4 714 C400 718.6 401.5 725.5 402.7 730.7 C403.9 736 405.3 740.9 406.4 745.5 C407.5 750.1 408.5 754.6 409.3 758.1 C410.1 761.6 411 764.5 411.1 766.8 C411.2 769.1 410.7 770.4 410 772 C409.3 773.6 407.6 774.8 406.9 776.3 C406.2 777.8 405.8 780.1 405.6 780.9" fill="none" stroke="#000" stroke-width="2.05" stroke-linejoin="round"/>
<line x1="397" y1="781.1" x2="413" y2="781.1" stroke="#000" stroke-width="2.2"/>
<path d="M735.6 51.1L711.0 48.1M711.0 48.1L707.1 38.0M715.0 48.6L711.1 38.5M718.9 49.1L715.1 39.0M722.9 49.6L719.0 39.5M735.6 91.4L711.0 88.4M711.0 88.4L707.1 78.3M715.0 88.9L711.1 78.8M718.9 89.4L715.1 79.3M722.9 89.9L719.0 79.8M735.6 128.0L711.1 124.1M711.1 124.1L707.6 113.9M715.1 124.7L711.5 114.5M719.0 125.4L715.5 115.1M723.0 126.0L721.2 120.9M735.6 160.9L711.1 157.8M711.1 157.8L707.3 147.7M715.1 158.3L711.2 148.2M719.0 158.8L715.2 148.7M723.0 159.3L721.1 154.3M735.6 190.8L710.9 187.9M710.9 187.9L707.0 177.8M714.9 188.4L710.9 178.3M718.8 188.8L714.9 178.8M735.6 218.6L710.4 217.1M710.4 217.1L705.9 207.3M714.4 217.3L709.9 207.5M718.4 217.6L713.9 207.8M735.6 243.3L710.9 246.3M710.9 246.3L704.7 237.4M714.9 245.8L708.7 237.0M718.8 245.3L712.7 236.5M722.8 244.9L719.7 240.4M735.6 265.3L711.4 271.3M711.4 271.3L704.2 263.3M715.3 270.3L708.1 262.3M719.2 269.4L711.9 261.3M723.0 268.4L715.8 260.4M726.9 267.4L723.3 263.4M735.6 267.8L711.4 273.8M711.4 273.8L704.2 265.8M715.3 272.8L708.1 264.8M719.2 271.9L711.9 263.8M723.0 270.9L715.8 262.9M726.9 269.9L723.3 265.9M735.6 290.1L712.4 298.5M712.4 298.5L704.4 291.3M716.2 297.1L708.1 289.9M719.9 295.8L711.9 288.5M723.7 294.4L715.7 287.2M735.6 310.4L712.9 320.8M712.9 320.8L704.3 314.2M716.5 319.1L708.0 312.6M720.2 317.5L711.6 310.9M723.8 315.8L715.2 309.2M735.6 331.9L712.9 339.8M712.9 339.8L705.0 332.5M716.7 338.5L708.8 331.1M720.5 337.2L712.5 329.8M724.2 335.9L716.3 328.5M728.0 334.5L724.0 330.9M735.6 348.7L712.4 356.6M712.4 356.6L704.5 349.2M716.2 355.3L708.3 347.9M720.0 354.0L712.1 346.6M723.8 352.7L715.9 345.3M727.5 351.4L723.6 347.7M735.6 366.5L711.9 373.5M735.6 383.4L711.9 390.3M735.6 394.9L711.9 401.3M735.6 399.4L711.9 406.3M735.6 414.2L712.4 422.1M735.6 429.6L712.4 437.5M735.6 443.4L712.4 450.8M735.6 456.4L712.4 464.9M712.4 464.9L704.4 457.7M716.2 463.5L708.1 456.3M719.9 462.1L711.9 454.9M723.7 460.8L715.6 453.6M727.4 459.4L723.4 455.8M735.6 469.3L712.4 476.2M712.4 476.2L704.8 468.5M716.2 475.1L708.7 467.4M720.1 473.9L712.5 466.2M723.9 472.8L716.3 465.1M727.7 471.6L723.9 467.8M735.6 481.2L712.4 489.5M712.4 489.5L704.4 482.2M716.2 488.2L708.2 480.9M719.9 486.8L711.9 479.5M723.7 485.5L715.7 478.2M727.5 484.1L723.5 480.5M735.6 487.4L712.4 495.5M712.4 495.5L704.5 488.2M716.2 494.2L708.2 486.8M720.0 492.9L712.0 485.5M723.7 491.5L715.8 484.2M727.5 490.2L723.5 486.6M735.6 493.1L712.4 501.0M712.4 501.0L704.5 493.6M716.2 499.7L708.3 492.3M720.0 498.4L712.1 491.0M723.8 497.1L715.9 489.7M727.5 495.8L723.6 492.1M735.6 504.0L712.4 512.0M712.4 512.0L704.5 504.6M716.2 510.7L708.3 503.3M720.0 509.4L712.1 502.0M723.7 508.1L719.8 504.4M735.6 514.4L712.4 522.5M712.4 522.5L704.5 515.2M716.2 521.2L708.2 513.8M720.0 519.9L712.0 512.5M735.6 524.5L712.4 532.9M712.4 532.9L704.4 525.7M716.2 531.5L708.1 524.3M719.9 530.2L711.9 522.9M735.6 534.4L712.9 542.3M712.9 542.3L705.0 535.0M716.7 541.0L708.8 533.6M720.5 539.7L712.5 532.3M735.6 544.1L712.6 549.7M712.6 549.7L705.4 541.6M716.5 548.8L709.3 540.7M720.4 547.8L716.8 543.8M735.6 553.0L714.5 556.0M714.5 556.0L708.1 547.3M718.5 555.4L712.1 546.7M722.4 554.9L719.2 550.5M735.6 558.9L713.7 561.5M713.7 561.5L707.5 552.6M717.7 561.0L711.5 552.2M721.6 560.6L718.6 556.1M735.6 561.5L714.1 563.8M714.1 563.8L708.0 554.9M718.1 563.4L712.0 554.4M722.1 562.9L719.0 558.5M735.6 570.5L715.6 570.5M715.6 570.5L710.5 561.0M719.6 570.5L714.5 561.0M723.6 570.5L721.1 565.7M735.6 578.6L716.0 573.8M716.0 573.8L713.3 563.3M719.9 574.8L717.2 564.3M723.8 575.7L722.4 570.5M735.6 586.4L716.0 578.6M716.0 578.6L714.8 567.9M719.7 580.1L718.5 569.3M723.4 581.6L722.8 576.2M735.6 594.6L716.0 584.6M716.0 584.6L715.8 573.8M719.6 586.4L719.4 575.6M735.6 666.0L760.1 660.8M760.1 660.8L767.0 669.1M756.1 661.6L759.6 665.8M735.6 670.5L759.5 663.3M759.5 663.3L767.1 670.9M755.7 664.4L759.5 668.3M735.6 675.0L758.8 665.8M758.8 665.8L767.1 672.8M755.1 667.3L759.2 670.8M735.6 679.5L758.0 668.4M758.0 668.4L766.8 674.6M754.4 670.1L758.8 673.3M735.6 684.0L757.9 672.7M757.9 672.7L766.7 678.8M754.3 674.5L763.2 680.7M735.6 688.5L757.9 677.2M757.9 677.2L766.7 683.3M754.3 679.0L763.2 685.2M735.6 693.0L757.9 681.7M757.9 681.7L766.7 687.8M754.3 683.5L763.2 689.7M735.6 697.5L757.9 686.2M757.9 686.2L766.7 692.3M754.3 688.0L763.2 694.2M735.6 702.0L757.9 690.7M757.9 690.7L766.7 696.8M754.3 692.5L763.2 698.7M735.6 706.5L757.9 695.2M757.9 695.2L766.7 701.3M754.3 697.0L763.2 703.2M735.6 711.0L757.9 699.7M757.9 699.7L766.7 705.8M754.3 701.5L763.2 707.7M735.6 715.5L757.9 704.2M757.9 704.2L766.7 710.3M754.3 706.0L763.2 712.2M735.6 720.0L757.9 708.7M757.9 708.7L766.7 714.8M754.3 710.5L763.2 716.7M735.6 724.0L757.9 712.7M757.9 712.7L766.7 718.8M754.3 714.5L763.2 720.7M735.6 727.8L758.3 717.3M758.3 717.3L766.9 723.8M754.7 719.0L763.3 725.5M735.6 731.5L758.8 722.1M758.8 722.1L767.0 729.0M755.1 723.6L763.3 730.6M735.6 735.1L759.2 726.7M759.2 726.7L767.1 734.0M755.4 728.1L763.4 735.4M735.6 738.5L759.5 731.2M759.5 731.2L767.1 738.8M755.7 732.4L763.3 740.0M735.6 741.7L759.8 735.5M759.8 735.5L767.1 743.5M755.9 736.5L763.2 744.4M735.6 744.9L760.0 739.6M760.0 739.6L767.0 747.9M756.1 740.5L763.1 748.7M735.6 747.9L759.8 743.3M759.8 743.3L766.5 751.7M755.9 744.0L759.2 748.3M735.6 750.7L759.5 746.8M759.5 746.8L766.1 755.4M755.6 747.5L758.8 751.8M735.6 753.5L759.2 750.2M759.2 750.2L765.6 758.9M755.3 750.7L758.4 755.1M735.6 756.2L758.9 753.4M758.9 753.4L765.1 762.3M755.0 753.9L758.1 758.3M735.6 617.4L725.5 594.5M725.5 594.5L732.1 586.0M735.6 624.1L740.2 599.5M740.2 599.5L750.5 596.3M735.6 631.5L748.6 610.1M748.6 610.1L759.3 610.7M735.6 638.4L758.7 628.8M758.7 628.8L767.0 635.7M735.6 644.9L758.7 635.5M758.7 635.5L767.0 642.4M735.6 650.9L759.9 645.1M759.9 645.1L767.1 653.2M756.0 646.0L759.6 650.0M735.6 657.3L760.2 652.9M760.2 652.9L766.9 661.4M756.3 653.6L759.6 657.9M735.6 663.3L760.1 658.2M760.1 658.2L767.0 666.5M756.2 659.0L759.6 663.2" fill="none" stroke="#000" stroke-width="1"/>
<path d="M735.6 758.7L758.7 756.5M758.7 756.5L764.6 765.5M754.7 756.9L757.7 761.4M735.6 761.2L758.5 758.5M758.5 758.5L764.7 767.3M754.5 758.9L757.6 763.4M735.6 762.9L758.5 759.1M758.5 759.1L765.1 767.7M754.5 759.8L757.8 764.1M735.6 764.7L758.4 759.8M758.4 759.8L765.4 768.1M754.5 760.7L758.0 764.8M735.6 766.4L758.3 760.5M758.3 760.5L765.6 768.4M754.4 761.5L758.1 765.5M735.6 768.2L758.1 761.2M758.1 761.2L765.8 768.8M754.3 762.4L758.1 766.2M735.6 769.9L757.9 761.9M757.9 761.9L765.9 769.1M754.1 763.2L758.1 766.8M735.6 771.7L757.6 762.5M757.6 762.5L765.9 769.4M735.6 773.4L757.3 763.2M757.3 763.2L765.9 769.7M735.6 775.2L756.9 764.0M756.9 764.0L765.8 770.0M735.6 776.9L756.5 764.7M756.5 764.7L765.7 770.3M735.6 778.7L756.0 765.4M756.0 765.4L765.4 770.6M735.6 780.4L755.4 766.2M755.4 766.2L765.1 771.0" fill="none" stroke="#111" stroke-width="0.8"/>
<path d="M711.9 373.5L709.4 365.0L716.9 372.0ZM711.9 390.3L709.4 381.8L716.9 388.8ZM711.9 401.3L709.6 392.7L716.9 399.9ZM711.9 406.3L709.4 397.8L716.9 404.8ZM712.4 422.1L709.5 413.7L717.3 420.4ZM712.4 437.5L709.5 429.1L717.3 435.8ZM712.4 450.8L709.7 442.3L717.4 449.2Z" fill="#000"/>
<path d="M736.1 321.5L744.1 329.9L736.1 338.3L728.2 329.9Z" fill="none" stroke="#222" stroke-width="1"/>
<text x="736.1" y="332.5" font-size="7" fill="#444" text-anchor="middle">T</text>
<text x="820.5" y="176.9" class="hl">41600</text>
<text x="820.5" y="269.1" class="hl">35900</text>
<text x="820.5" y="340.6" class="hl">31400</text>
<text x="820.5" y="399" class="hl">27700</text>
<text x="820.5" y="491.2" class="hl">21700</text>
<text x="820.5" y="562.7" class="hl">16750</text>
<text x="820.5" y="621.2" class="hl">12590</text>
<text x="824" y="670.6" class="hl">8920</text>
<text x="822.3" y="732.8" class="hl">4095</text>
<text x="824" y="759.9" class="hl">2003</text>
<text x="829" y="784.9" class="hl">354</text>
<text x="837" y="63.3" class="tr">-40</text>
<text x="837" y="137.8" class="tr">-30</text>
<text x="837" y="212.3" class="tr">-20</text>
<text x="837" y="286.8" class="tr">-10</text>
<text x="837" y="361.3" class="tr b">0</text>
<text x="837" y="435.8" class="tr">10</text>
<text x="837" y="510.3" class="tr">20</text>
<text x="837" y="584.8" class="tr">30</text>
<text x="837" y="659.3" class="tr">40</text>
<text x="837" y="733.8" class="tr">50</text>
</g>
<text x="55.3" y="399.2" class="pl">300[hPa]</text>
<text x="55.3" y="491.4" class="pl">400[hPa]</text>
<text x="55.3" y="562.9" class="pl">500[hPa]</text>
<text x="55.3" y="621.4" class="pl">600[hPa]</text>
<text x="55.3" y="670.8" class="pl">700[hPa]</text>
<text x="55.3" y="733" class="pl">850[hPa]</text>
<text x="55.3" y="760.1" class="pl">925[hPa]</text>
<text x="55.3" y="785.1" class="pl">1000[hPa]</text>
<rect x="54.5" y="43.5" width="174" height="310" fill="#fff" stroke="#333" stroke-width="1"/>
<text x="56.3" y="61.6" font-size="12.2" fill="#000" stroke="#000" stroke-width="0.35" textLength="89.8" lengthAdjust="spacingAndGlyphs">Sounding Indices</text>
<text x="57.9" y="77.2" class="tl">Name</text><text x="131.3" y="77.2" class="tv ">Reykjavíkurflugvöllur</text>
<text x="57.9" y="92.2" class="tl">Position</text><text x="131.3" y="92.2" class="tv ">64°08'N 21°56'W</text>
<text x="57.9" y="107.2" class="tl">Elevation</text><text x="131.3" y="107.2" class="tv ">0ft</text>
<text x="57.9" y="122.2" class="tl">KINX</text><text x="131.3" y="122.2" class="tv ">-5.7</text>
<text x="57.9" y="137.2" class="tl">CTOT</text><text x="131.3" y="137.2" class="tv dr">18.9</text>
<text x="57.9" y="152.2" class="tl">VTOT</text><text x="131.3" y="152.2" class="tv r">27.3</text>
<text x="57.9" y="167.2" class="tl">TTOT</text><text x="131.3" y="167.2" class="tv dr">46.2</text>
<text x="57.9" y="182.2" class="tl">SHOW</text><text x="131.3" y="182.2" class="tv ">7.6</text>
<text x="57.9" y="197.2" class="tl">MAXT</text><text x="131.3" y="197.2" class="tv ">5.5°C</text>
<text x="57.9" y="212.2" class="tl">WBZ</text><text x="131.3" y="212.2" class="tv r">15ft</text>
<text x="57.9" y="227.2" class="tl">BOYDEN</text><text x="131.3" y="227.2" class="tv ">87.7</text>
<text x="57.9" y="242.2" class="tl">PWAT</text><text x="131.3" y="242.2" class="tv ">4.6 kg/m²</text>
<text x="57.9" y="257.2" class="tl">SWEAT</text><text x="131.3" y="257.2" class="tv ">60</text>
<text x="57.9" y="272.2" class="tl">Zero Degree (B)</text><text x="131.3" y="272.2" class="tv ">65ft</text>
<text x="57.9" y="287.2" class="tl">TROPO(A)</text><text x="131.3" y="287.2" class="tv ">31870ft</text>
<text x="57.9" y="302.2" class="tl">TROPO(B)</text><text x="131.3" y="302.2" class="tv ">58660ft</text>
<text x="57.9" y="317.2" class="tl">TROPO(C)</text><text x="131.3" y="317.2" class="tv ">73740ft</text>
<text x="57.9" y="332.2" class="tl">TH850</text><text x="131.3" y="332.2" class="tv ">4095ft</text>
<text x="57.9" y="347.2" class="tl">TH500</text><text x="131.3" y="347.2" class="tv ">16750ft</text>
<rect x="0" y="779" width="212" height="29" fill="#f0f0f0"/>
<g fill="#112f5a">
<path d="M15.1 785.2L15.1 791.4L18.7 788.3Z" fill="#aab5c4"/>
<path d="M8 795.9L15.1 795.9L11.6 791.9Z" fill="#98a6b8"/>
<path d="M19.1 791.9L25.8 791.9L22.4 795.9Z" fill="#1b3a63"/>
<path d="M18.7 796.3L18.7 802.6L15.1 799.4Z" fill="#4a6a8e"/>
<text x="29.8" y="791.4" font-size="7.2" font-weight="bold" textLength="34" lengthAdjust="spacingAndGlyphs">Veðurstofa</text>
<text x="29.8" y="800.8" font-size="7.2" font-weight="bold" textLength="22" lengthAdjust="spacingAndGlyphs">Íslands</text>
</g>
<text x="73.5" y="798.6" font-size="15.8" font-weight="bold" fill="#1f4e7a">Fös. 20 Feb. 04:00</text>
</svg>
</body></html>
